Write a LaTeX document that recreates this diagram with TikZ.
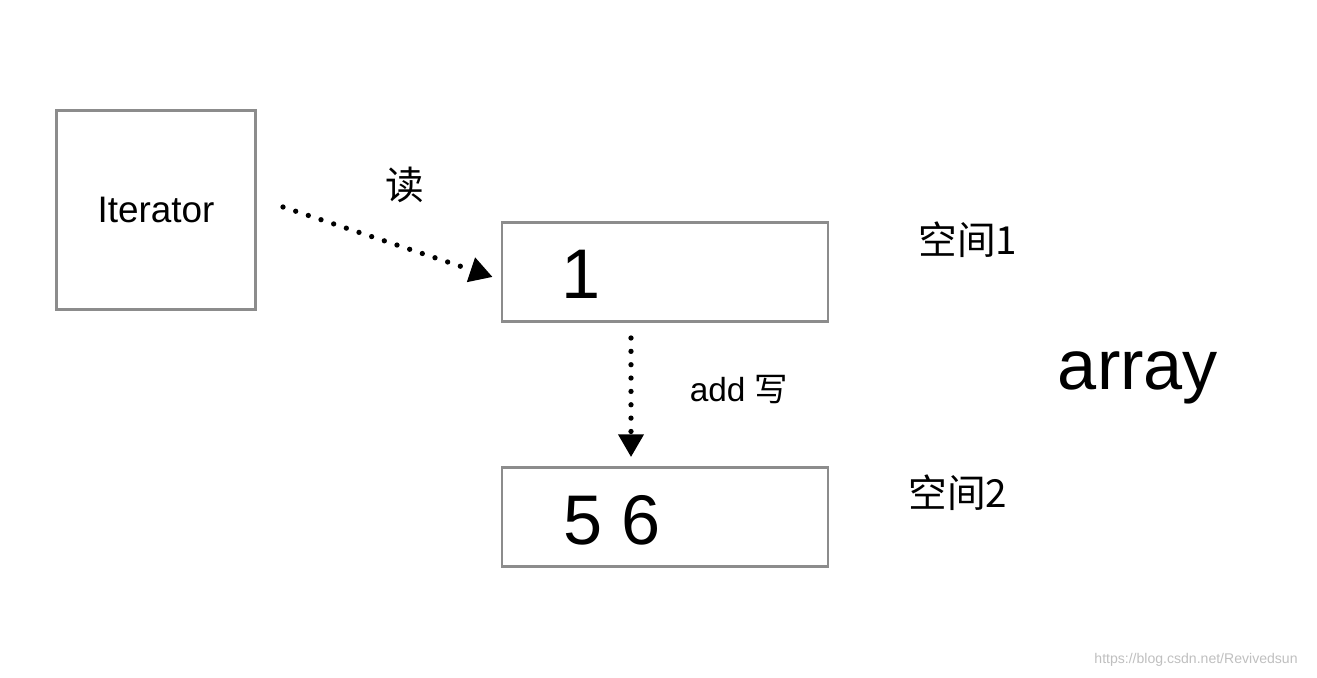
\documentclass[tikz,border=0pt]{standalone}
\usepackage{fontspec}
\setmainfont{Liberation Sans}
\newfontfamily\cjk{Noto Sans CJK SC}
\usetikzlibrary{arrows.meta}
\tikzset{
    cell/.style={draw=gray!90,line width=1.6pt,minimum height=1.98cm,minimum width=6.52cm},
    dotline/.style={line width=3pt,line cap=round,dash pattern=on 0pt off 7.6pt,
        -{Triangle[length=13pt,width=14pt,line cap=butt]}}
}
\begin{document}
\begin{tikzpicture}[x=0.02cm,y=-0.02cm]
\useasboundingbox (0,0) rectangle (1317,678);
%%%% Add boxes
    \node[draw=gray!90,line width=1.6pt,minimum size=3.98cm,font=\fontsize{21}{24}\selectfont] (it) at (156,210) {Iterator};
    \node[cell] (s1) at (665,272) {};
    \node[cell] (s2) at (665,517) {};
    \node[font=\fontsize{40}{44}\selectfont] (one) at (581,274) {1};
    \node[font=\fontsize{40}{44}\selectfont] (fs) at (612,520) {5 6};
%%%% Add labels
    \node[font=\cjk\fontsize{22}{26}\selectfont] (rd) at (405,185) {读};
    \node[font=\fontsize{19}{24}\selectfont] (wr) at (739,390) {add {\cjk 写}};
    \node[font=\cjk\fontsize{22}{26}\selectfont] (k1) at (968,240) {空间1};
    \node[font=\cjk\fontsize{22}{26}\selectfont] (k2) at (958,493) {空间2};
    \node[font=\fontsize{40}{44}\selectfont] (arr) at (1138,378) {array};
    \node[font=\fontsize{8}{10}\selectfont,text=gray!50] (wm) at (1196,660) {https://blog.csdn.net/Revivedsun};
%%%% Add arrows
    \coordinate (a0) at (283,207);
    \coordinate (b0) at (631,338);
    \draw[dotline] (a0) -- ([xshift=-0.16cm,yshift=-0.1cm]s1.west);
    \draw[dotline] (b0) -- ([xshift=-0.68cm,yshift=0.18cm]s2.north);
\end{tikzpicture}
\end{document}
